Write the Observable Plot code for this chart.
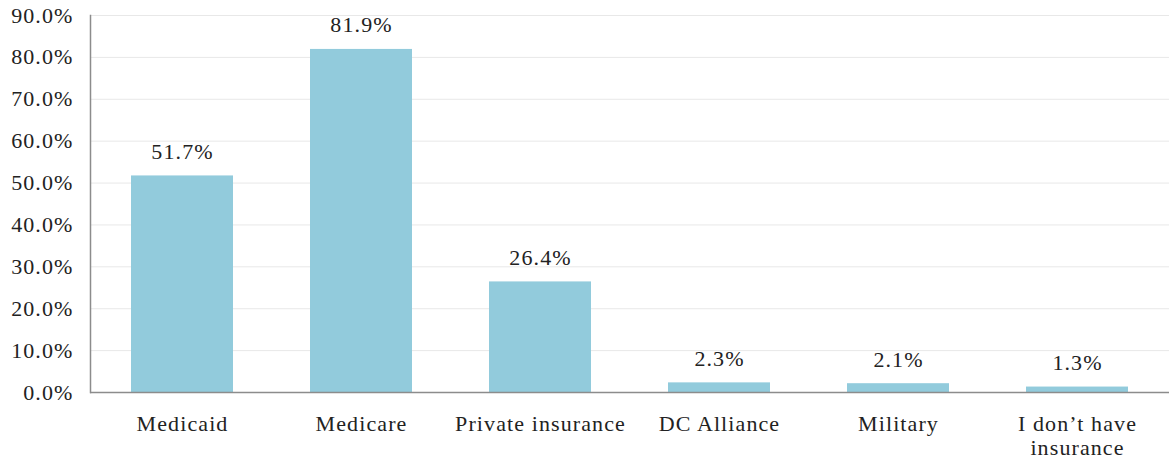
<!DOCTYPE html>
<html>
<head>
<meta charset="utf-8">
<script src="https://cdn.jsdelivr.net/npm/d3@7"></script>
<script src="https://cdn.jsdelivr.net/npm/@observablehq/plot@0.6"></script>
<style>
  html, body { margin: 0; padding: 0; background: #fff; }
  #chart svg { display: block; }
  #chart svg text { letter-spacing: 1.1px; }
</style>
</head>
<body>
<div id="chart"></div>
<script>
const categories = ["Medicaid", "Medicare", "Private insurance", "DC Alliance", "Military", "I don\u2019t have insurance"];
const values = [0.517, 0.819, 0.264, 0.023, 0.021, 0.013];
const tickLabels = ["Medicaid", "Medicare", "Private insurance", "DC Alliance", "Military", "I don\u2019t have\ninsurance"];
const yTicks = [0, 0.1, 0.2, 0.3, 0.4, 0.5, 0.6, 0.7, 0.8, 0.9];

const data = categories.map((c, i) => ({category: c, value: values[i]}));
const fmt = d3.format(".1%");
const font = "'Liberation Serif', 'Times New Roman', serif";

const chart = Plot.plot({
  width: 1169,
  height: 460,
  marginLeft: 90,
  marginRight: 0,
  marginTop: 15,
  marginBottom: 68,
  style: {fontSize: "22px", fontFamily: font, color: "#222", background: "#fff"},
  x: {domain: categories, paddingInner: 0.43, paddingOuter: 0.215, label: null},
  y: {domain: [0, 0.9], label: null},
  marks: [
    Plot.gridY(yTicks, {stroke: "#e8e8e8", strokeOpacity: 1}),
    Plot.barY(data, {x: "category", y: "value", fill: "#92CBDC"}),
    Plot.text(data, {x: "category", y: "value", text: d => fmt(d.value), dy: -24, fill: "#222"}),
    Plot.ruleY([0], {stroke: "#8c8c8c", strokeWidth: 1.5}),
    Plot.frame({anchor: "left", stroke: "#8c8c8c", strokeWidth: 1.5}),
    Plot.axisY({ticks: yTicks, tickFormat: fmt, tickSize: 0, tickPadding: 17, label: null, fill: "#222"}),
    Plot.axisX({tickSize: 0, tickPadding: 21, lineHeight: 1.1, label: null, fill: "#222",
      tickFormat: d => tickLabels[categories.indexOf(d)]})
  ]
});
document.getElementById("chart").appendChild(chart);
</script>
</body>
</html>
